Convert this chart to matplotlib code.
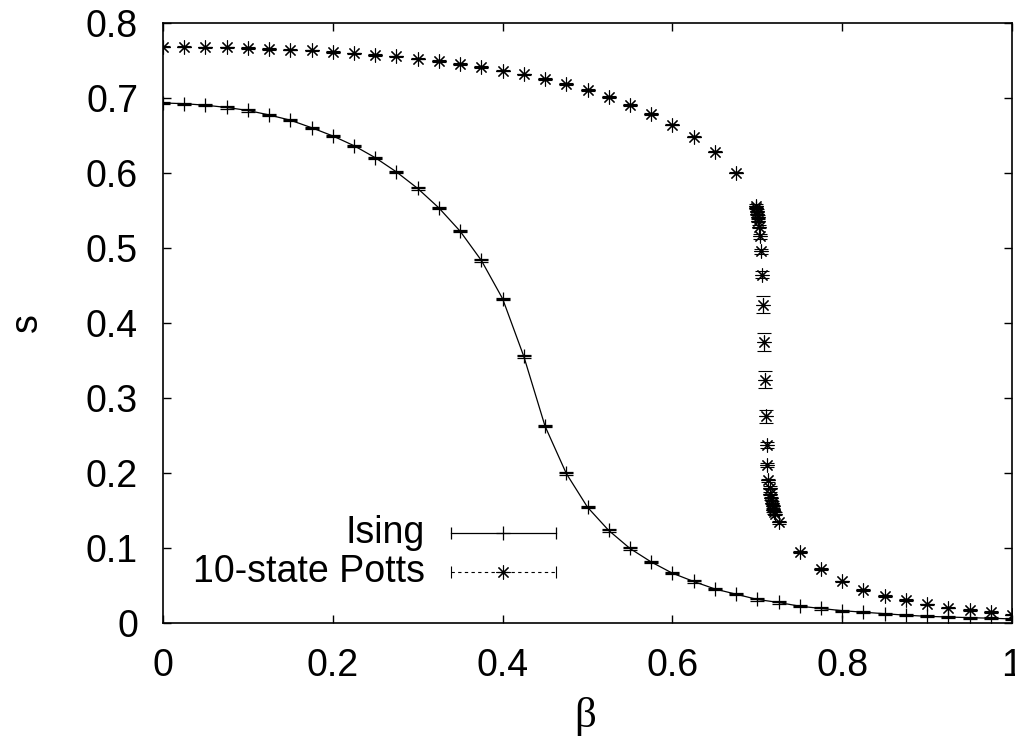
import numpy as np
import matplotlib.pyplot as plt

# Ising data
beta_ising = [0.0, 0.025, 0.05, 0.075, 0.1, 0.125, 0.15, 0.175, 0.2, 0.225,
              0.25, 0.275, 0.3, 0.325, 0.35, 0.375, 0.4, 0.425, 0.45, 0.475,
              0.5, 0.525, 0.55, 0.575, 0.6, 0.625, 0.65, 0.675, 0.7, 0.725,
              0.75, 0.775, 0.8, 0.825, 0.85, 0.875, 0.9, 0.925, 0.95, 0.975, 1.0]
s_ising = [0.693, 0.692, 0.690, 0.687, 0.683, 0.677, 0.670, 0.660, 0.649, 0.636,
           0.620, 0.601, 0.579, 0.553, 0.522, 0.483, 0.432, 0.355, 0.262, 0.199,
           0.154, 0.123, 0.099, 0.081, 0.066, 0.055, 0.045, 0.038, 0.031, 0.027,
           0.022, 0.019, 0.016, 0.014, 0.012, 0.010, 0.0085, 0.0076, 0.0067, 0.006, 0.005]
err_ising = [0.0015] * len(beta_ising)

# 10-state Potts data
beta_potts = [0.0, 0.025, 0.05, 0.075, 0.1, 0.125, 0.15, 0.175, 0.2, 0.225,
              0.25, 0.275, 0.3, 0.325, 0.35, 0.375, 0.4, 0.425, 0.45, 0.475,
              0.5, 0.525, 0.55, 0.575, 0.6, 0.625, 0.65, 0.675,
              0.6985, 0.699, 0.6995, 0.700, 0.7005, 0.701, 0.702, 0.703, 0.704,
              0.706, 0.707, 0.708, 0.709, 0.710, 0.711, 0.712, 0.713,
              0.7145, 0.715, 0.716, 0.717, 0.718, 0.719, 0.720, 0.721, 0.725,
              0.75, 0.775, 0.8, 0.825, 0.85, 0.875, 0.9, 0.925, 0.95, 0.975, 1.0]
s_potts = [0.768, 0.768, 0.767, 0.767, 0.766, 0.765, 0.764, 0.763, 0.761, 0.759,
           0.757, 0.755, 0.752, 0.749, 0.745, 0.741, 0.736, 0.731, 0.725, 0.718,
           0.710, 0.701, 0.690, 0.678, 0.664, 0.648, 0.628, 0.600,
           0.556, 0.553, 0.549, 0.545, 0.541, 0.536, 0.528, 0.515, 0.495,
           0.464, 0.424, 0.374, 0.324, 0.275, 0.237, 0.210, 0.190,
           0.180, 0.172, 0.166, 0.160, 0.155, 0.150, 0.147, 0.145, 0.134,
           0.0945, 0.0716, 0.055, 0.0436, 0.0356, 0.030, 0.0245, 0.020, 0.017, 0.014, 0.0107]
err_potts = [0.001] * 28 + [0.002, 0.002, 0.002, 0.002, 0.002, 0.002, 0.002, 0.003, 0.003,
                            0.005, 0.011, 0.012, 0.011, 0.009, 0.004, 0.003, 0.002,
                            0.002, 0.002, 0.002, 0.002, 0.002, 0.002, 0.002, 0.002, 0.002] + [0.001] * 11

xticks = [0, 0.2, 0.4, 0.6, 0.8, 1]
xtick_labels = ['0', '0.2', '0.4', '0.6', '0.8', '1']
yticks = [0, 0.1, 0.2, 0.3, 0.4, 0.5, 0.6, 0.7, 0.8]
ytick_labels = ['0', '0.1', '0.2', '0.3', '0.4', '0.5', '0.6', '0.7', '0.8']

plt.rcParams['font.family'] = ['Liberation Sans', 'DejaVu Sans']

fig = plt.figure(figsize=(10.15, 7.42), dpi=100)
ax = fig.add_axes([163/1015, 1 - 622.7/742, 849/1015, 600/742])

asterisk = (8, 2, 0)

# Ising: line + points with errorbars
ax.errorbar(beta_ising, s_ising, yerr=err_ising, fmt='-', color='black', lw=0.9,
            marker='+', markersize=10, mew=0.9, ecolor='black', elinewidth=0.9,
            capsize=5, capthick=0.9, zorder=3)

# Potts: points with dashed errorbars
eb = ax.errorbar(beta_potts, s_potts, yerr=err_potts, fmt='none', ecolor='black',
                 elinewidth=0.8, capsize=5, capthick=0.8, zorder=2)
eb[2][0].set_linestyle((0, (2, 2)))
ax.plot(beta_potts, s_potts, ls='none', marker=asterisk, markersize=10, mew=0.8,
        color='black', zorder=3)

ax.set_xlim(0, 1)
ax.set_ylim(0, 0.8)
ax.set_xticks(xticks)
ax.set_xticklabels(xtick_labels)
ax.set_yticks(yticks)
ax.set_yticklabels(ytick_labels)
ax.tick_params(direction='in', length=6, width=1.0, top=True, right=True,
               labelsize=27, pad=18)
for sp in ax.spines.values():
    sp.set_linewidth(1.2)

ax.set_ylabel('s', fontsize=27, va='center')
ax.yaxis.set_label_coords(-0.160, 0.5)
ax.set_xlabel('β', fontsize=31, family=['Liberation Serif', 'DejaVu Serif'], va='center')
ax.xaxis.set_label_coords(0.497, -0.157)

# gnuplot-style key
x1, x2, xm, xt = 0.339, 0.463, 0.4005, 0.3086
yI, yP = 0.1495, 0.085
ax.text(xt, yI, 'Ising', transform=ax.transAxes, ha='right', va='center', fontsize=27)
ax.text(xt, yP, '10-state Potts', transform=ax.transAxes, ha='right', va='center', fontsize=27)
ax.plot([x1, x2], [yI, yI], '-', color='black', lw=0.9, marker='|', markersize=9,
        mew=0.9, transform=ax.transAxes, clip_on=False)
ax.plot([xm], [yI], marker='+', markersize=10, mew=0.9, color='black',
        transform=ax.transAxes, clip_on=False)
ax.plot([x1, x2], [yP, yP], color='black', lw=0.8, ls=(0, (3, 3)), marker='|',
        markersize=9, mew=0.8, transform=ax.transAxes, clip_on=False)
ax.plot([xm], [yP], marker=asterisk, markersize=10, mew=0.8, color='black',
        transform=ax.transAxes, clip_on=False)

fig.savefig('out.png', dpi=100)
